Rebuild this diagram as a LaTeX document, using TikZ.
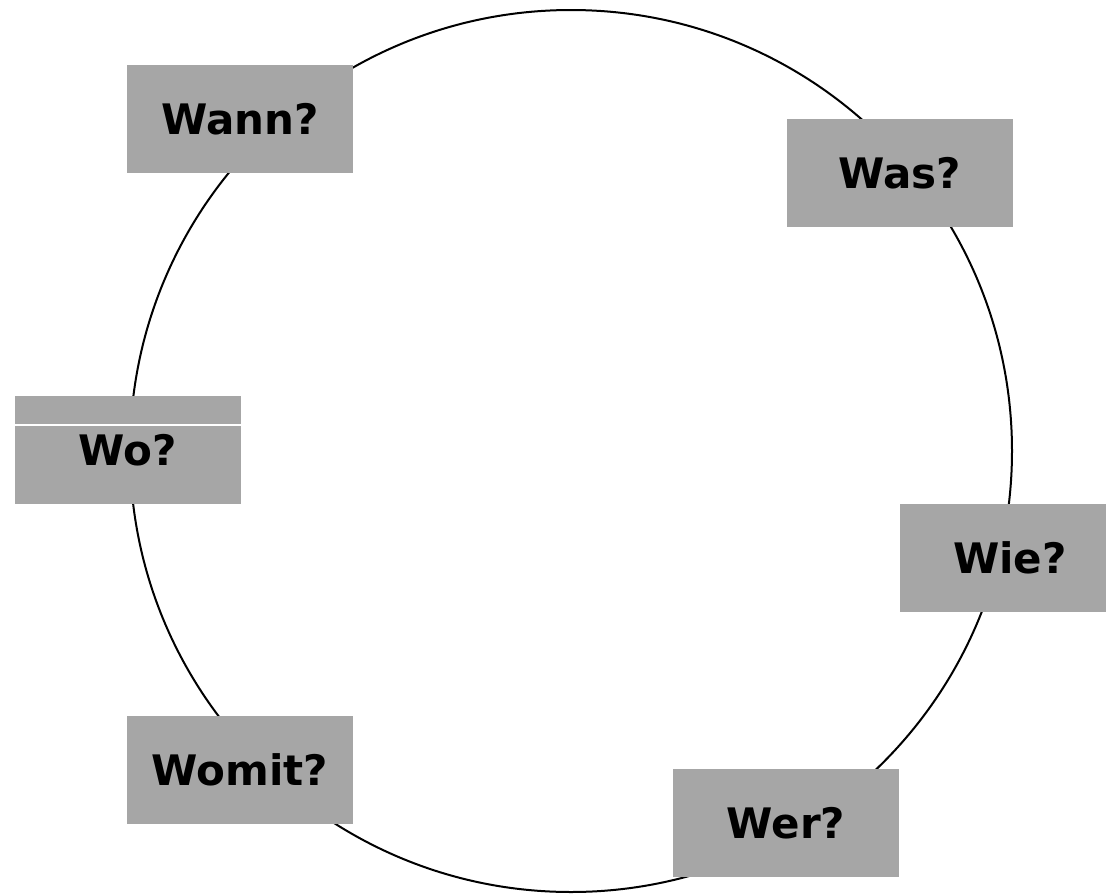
\documentclass[tikz,border=0pt]{standalone}
\usepackage{fontspec}
\setmainfont{DejaVu Sans}
\usepackage{tikz}
\usetikzlibrary{positioning}
\definecolor{boxgray}{RGB}{166,166,166}

\begin{document}
\begin{tikzpicture}[x=1pt, y=-1pt,
    ring/.style={circle, draw=black, line width=2pt, minimum size=882pt, inner sep=0pt},
    qbox/.style={rectangle, fill=boxgray, minimum width=226pt, minimum height=108pt, inner sep=0pt, font=\fontsize{42}{50}\selectfont\bfseries}
]
\useasboundingbox (0,0) rectangle (1106,895);
\node[ring] (kreis) at (571,451) {};
\node[qbox] (wann) at (240,119) {Wann?};
\node[qbox] (was) at (900,173) {Was?};
\node[qbox] (wo) at (128,450) {\raisebox{-2pt}{Wo?}};
\draw[white, line width=1.5pt] (wo.west |- 0,425) -- (wo.east |- 0,425);
\node[qbox] (wie) at (1013,558) {\hspace*{-6pt}Wie?};
\node[qbox] (womit) at (240,770) {Womit?};
\node[qbox] (wer) at (786,823) {Wer?};
\end{tikzpicture}
\end{document}
